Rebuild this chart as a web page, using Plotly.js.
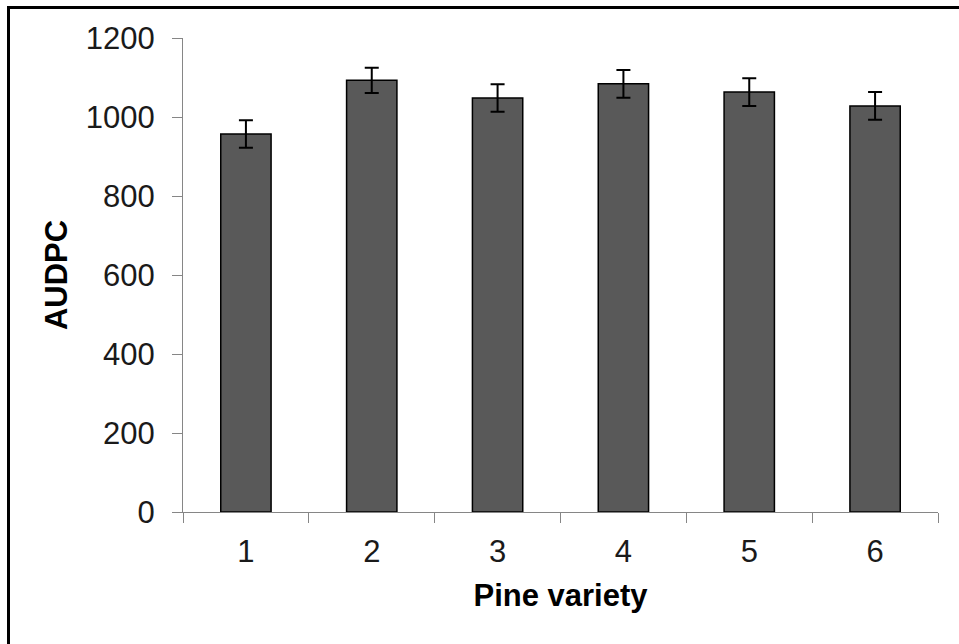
<!DOCTYPE html>
<html>
<head>
<meta charset="utf-8">
<script src="https://cdn.plot.ly/plotly-3.0.1.min.js"></script>
<style>
  html, body { margin: 0; padding: 0; background: #fff; }
  #wrap { position: relative; width: 959px; height: 644px; overflow: hidden; }
  #frame { position: absolute; left: 7px; top: 6px; width: 980px; height: 700px;
           border-left: 3px solid #000; border-top: 3px solid #000; box-sizing: border-box; pointer-events: none; }
  #chart { position: absolute; left: 0; top: 0; width: 959px; height: 644px; }
</style>
</head>
<body>
<div id="wrap">
  <div id="chart"></div>
  <div id="frame"></div>
</div>
<script>
const categories = ["1", "2", "3", "4", "5", "6"];
const audpc = [957, 1093, 1048, 1084, 1063, 1028];
const errors = [35, 32, 35, 35, 35, 35];
const yTicks = [0, 200, 400, 600, 800, 1000, 1200];

const trace = {
  type: "bar",
  x: categories,
  y: audpc,
  marker: { color: "#595959", line: { color: "#000000", width: 1.5 } },
  error_y: { type: "data", array: errors, visible: true, color: "#000000", thickness: 2, width: 7 },
  hoverinfo: "x+y"
};

const layout = {
  width: 959,
  height: 644,
  margin: { l: 183, r: 21, t: 38, b: 132 },
  paper_bgcolor: "#ffffff",
  plot_bgcolor: "#ffffff",
  bargap: 0.6,
  showlegend: false,
  font: { family: "Liberation Sans, Arial, sans-serif", color: "#000" },
  xaxis: {
    type: "category",
    showline: true, linecolor: "#868686", linewidth: 1,
    ticks: "outside", ticklen: 10, tickcolor: "#868686", tickson: "boundaries",
    showgrid: false, zeroline: false,
    tickfont: { size: 31, color: "#1a1a1a" },
    ticklabelstandoff: 12,
    title: { text: "<b>Pine variety</b>", font: { size: 31, color: "#000" }, standoff: 16 }
  },
  yaxis: {
    range: [0, 1200],
    tickvals: yTicks,
    ticktext: yTicks.map(String),
    showline: true, linecolor: "#868686", linewidth: 1,
    ticks: "outside", ticklen: 10, tickcolor: "#868686",
    showgrid: false, zeroline: false,
    tickfont: { size: 31, color: "#1a1a1a" },
    ticklabelstandoff: 11,
    title: { text: "<b>AUDPC</b>", font: { size: 31, color: "#000" }, standoff: 8 }
  }
};

Plotly.newPlot("chart", [trace], layout, { displayModeBar: false, staticPlot: true });
</script>
</body>
</html>
